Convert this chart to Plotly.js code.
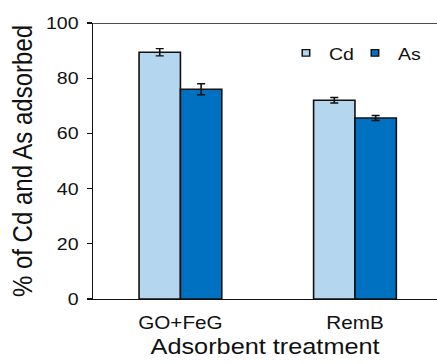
<!DOCTYPE html>
<html>
<head>
<meta charset="utf-8">
<script src="https://cdn.plot.ly/plotly-3.0.1.min.js"></script>
<style>
  html, body { margin: 0; padding: 0; background: #fff; overflow: hidden; }
  /* chart is laid out narrow and widened horizontally to fill the frame */
  #chart { width: 380px; height: 364px; transform: scaleX(1.15); transform-origin: 0 0; }
</style>
</head>
<body>
<div id="chart"></div>
<script>
// Percentage of Cd and As adsorbed per adsorbent treatment (mean ± error)
const treatments = ['GO+FeG', 'RemB'];
const cdAdsorbed = [89.4, 72.0];
const cdError = [1.3, 1.0];
const asAdsorbed = [76.0, 65.6];
const asError = [2.0, 0.9];

const FONT = 'Liberation Sans, Arial, sans-serif';
const INK = '#111';
const CD_COLOR = '#b4d6ee';
const AS_COLOR = '#0070c0';
const Y_MAX = 100;

function barTrace(name, values, errors, color) {
  return {
    type: 'bar',
    name: name,
    x: treatments,
    y: values,
    showlegend: false,
    marker: { color: color, line: { color: INK, width: 1.4 } },
    error_y: { type: 'data', array: errors, visible: true, color: INK, thickness: 1.4, width: 3.5 },
    hoverinfo: 'skip'
  };
}

// small outlined squares as legend keys
function legendKey(name, color) {
  return {
    type: 'scatter',
    mode: 'markers',
    name: name,
    x: [null],
    y: [null],
    marker: { symbol: 'square', size: 6.5, color: color, line: { color: INK, width: 1.3 } },
    hoverinfo: 'skip'
  };
}

const data = [
  barTrace('Cd', cdAdsorbed, cdError, CD_COLOR),
  barTrace('As', asAdsorbed, asError, AS_COLOR),
  legendKey('Cd', CD_COLOR),
  legendKey('As', AS_COLOR)
];

const layout = {
  width: 380,
  height: 364,
  margin: { l: 81, r: 0, t: 23, b: 65, autoexpand: false },
  paper_bgcolor: '#fff',
  plot_bgcolor: '#fff',
  font: { family: FONT, color: INK },
  barmode: 'group',
  bargap: 0.526,
  bargroupgap: 0,
  showlegend: true,
  legend: {
    orientation: 'h',
    x: 0.552, xanchor: 'left',
    y: 0.89, yanchor: 'middle',
    font: { family: FONT, size: 17, color: INK },
    bgcolor: 'rgba(0,0,0,0)',
    itemwidth: 30,
    entrywidth: 15,
    tracegroupgap: 0
  },
  // top border of the plot area
  shapes: [{
    type: 'line', xref: 'paper', yref: 'y',
    x0: 0, x1: 1, y0: Y_MAX, y1: Y_MAX,
    line: { color: INK, width: 1.3 }
  }],
  xaxis: {
    range: [-0.5, 1.47],
    showline: true,
    linecolor: INK,
    linewidth: 1.3,
    ticks: '',
    showgrid: false,
    zeroline: false,
    tickfont: { family: FONT, size: 18, color: INK },
    ticklabelstandoff: 7,
    title: { text: 'Adsorbent treatment', font: { family: FONT, size: 22, color: INK }, standoff: 6 }
  },
  yaxis: {
    range: [0, Y_MAX],
    dtick: 20,
    showline: true,
    linecolor: INK,
    linewidth: 1.3,
    ticks: 'outside',
    ticklen: 4,
    tickwidth: 1.3,
    tickcolor: INK,
    showgrid: false,
    zeroline: false,
    tickfont: { family: FONT, size: 17, color: INK },
    ticklabelstandoff: 4,
    title: { text: '% of Cd and As adsorbed', font: { family: FONT, size: 24, color: INK }, standoff: 4 }
  }
};

Plotly.newPlot('chart', data, layout, { displayModeBar: false, staticPlot: true });
</script>
</body>
</html>
